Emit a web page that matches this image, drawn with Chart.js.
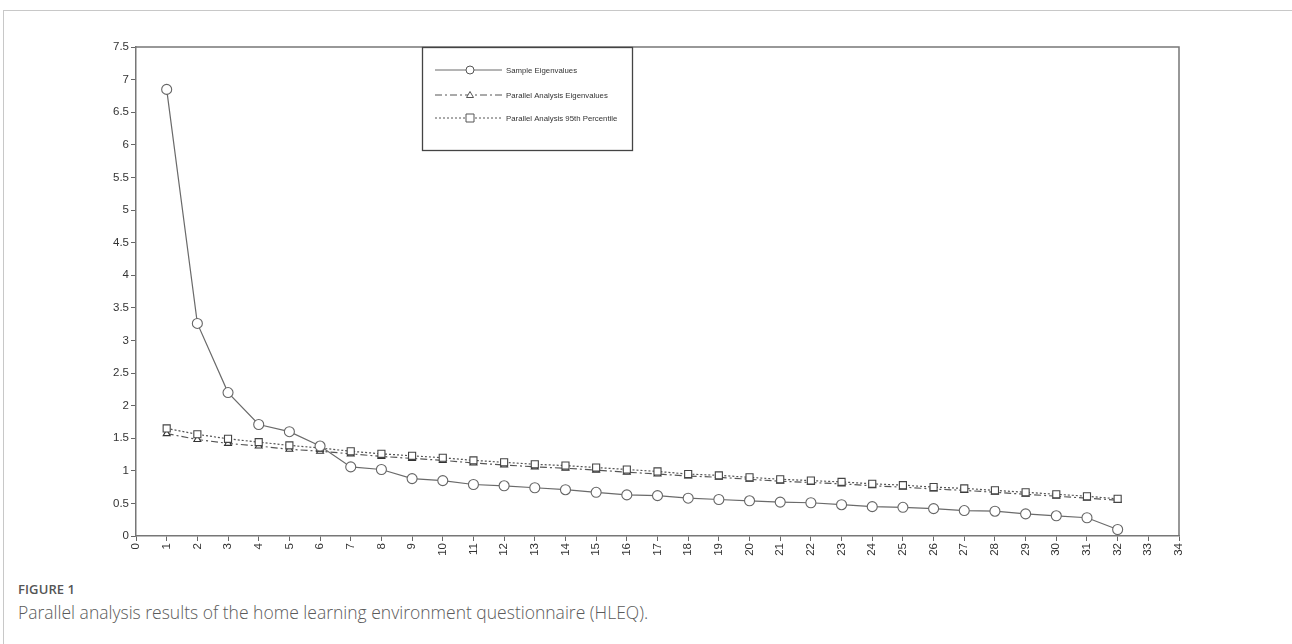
<!DOCTYPE html>
<html>
<head>
<meta charset="utf-8">
<script src="https://cdn.jsdelivr.net/npm/chart.js@4/dist/chart.umd.min.js"></script>
<style>
  html, body { margin: 0; padding: 0; background: #fff; }
  body { width: 1292px; height: 644px; position: relative; overflow: hidden; }
  #frame { position: absolute; left: 3px; top: 10px; width: 1400px; height: 700px; border-left: 1px solid #c8c8c8; border-top: 1px solid #c8c8c8; }
  #wrap { position: absolute; left: 0; top: 0; width: 1292px; height: 570px; }
  #fig { position: absolute; left: 18px; top: 580px; font-family: "Open Sans", sans-serif; font-size: 13px; font-weight: 600; color: #555; letter-spacing: 0.1px; }
  #cap { position: absolute; left: 18px; top: 600px; font-family: "Open Sans", sans-serif; font-size: 17.5px; font-weight: 300; color: #5a5a5a; white-space: nowrap; }
</style>
</head>
<body>
<div id="frame"></div>
<div id="wrap"><canvas id="c"></canvas></div>
<div id="fig">FIGURE 1</div>
<div id="cap">Parallel analysis results of the home learning environment questionnaire (HLEQ).</div>
<script>
const components = [1,2,3,4,5,6,7,8,9,10,11,12,13,14,15,16,17,18,19,20,21,22,23,24,25,26,27,28,29,30,31,32];
const sampleEigenvalues = [6.85,3.26,2.20,1.71,1.60,1.38,1.06,1.02,0.88,0.85,0.79,0.77,0.74,0.71,0.67,0.63,0.62,0.58,0.56,0.54,0.52,0.51,0.48,0.45,0.44,0.42,0.39,0.38,0.34,0.31,0.28,0.10];
const parallelEigenvalues = [1.57,1.48,1.42,1.38,1.33,1.30,1.26,1.22,1.19,1.16,1.12,1.09,1.06,1.04,1.01,0.98,0.95,0.92,0.90,0.87,0.84,0.82,0.80,0.77,0.75,0.72,0.70,0.67,0.64,0.61,0.58,0.55];
const parallel95th = [1.65,1.56,1.49,1.44,1.39,1.35,1.30,1.26,1.23,1.20,1.16,1.13,1.10,1.08,1.05,1.02,0.99,0.95,0.93,0.90,0.87,0.85,0.83,0.80,0.78,0.75,0.73,0.70,0.67,0.64,0.61,0.57];
const seriesNames = ["Sample Eigenvalues", "Parallel Analysis Eigenvalues", "Parallel Analysis 95th Percentile"];
const xRange = [0, 34];
const yRange = [0, 7.5];

const pts = arr => arr.map((v, i) => ({ x: components[i], y: v }));

const PLOT_LEFT = 136, PLOT_RIGHT = 1179, PLOT_TOP = 47, PLOT_BOTTOM = 536, CANVAS_H = 570;

const styles = [
  { color: '#6a6a6a', dash: [], pointStyle: 'circle' },
  { color: '#555', dash: [7, 3, 2, 3], pointStyle: 'triangle' },
  { color: '#555', dash: [2, 2], pointStyle: 'rect' }
];

const legendBox = {
  id: 'legendBox',
  afterDraw(chart) {
    const ctx = chart.ctx;
    const a = chart.chartArea;
    ctx.save();
    ctx.strokeStyle = '#777';
    ctx.lineWidth = 1.5;
    ctx.beginPath();
    ctx.moveTo(a.left, a.top);
    ctx.lineTo(a.right, a.top);
    ctx.lineTo(a.right, a.bottom);
    ctx.stroke();
    const bx = 422.5, by = 47.5, bw = 210, bh = 103;
    ctx.fillStyle = '#fff';
    ctx.fillRect(bx, by, bw, bh);
    ctx.strokeStyle = '#444';
    ctx.lineWidth = 1.3;
    ctx.strokeRect(bx, by, bw, bh);
    const rows = [70, 95, 118];
    chart.data.datasets.forEach((ds, i) => {
      const y = rows[i];
      const st = styles[i];
      ctx.strokeStyle = st.color;
      ctx.lineWidth = 1;
      ctx.setLineDash(st.dash);
      ctx.beginPath();
      ctx.moveTo(435, y);
      ctx.lineTo(502, y);
      ctx.stroke();
      ctx.setLineDash([]);
      ctx.fillStyle = '#fff';
      ctx.strokeStyle = '#555';
      ctx.lineWidth = 1;
      ctx.beginPath();
      if (st.pointStyle === 'circle') { ctx.arc(470, y, 4, 0, Math.PI * 2); }
      else if (st.pointStyle === 'rect') { ctx.rect(466, y - 4, 8, 8); }
      else { ctx.moveTo(470, y - 3.5); ctx.lineTo(473.5, y + 2.5); ctx.lineTo(466.5, y + 2.5); ctx.closePath(); }
      ctx.fill(); ctx.stroke();
      ctx.fillStyle = '#333';
      ctx.font = '7.8px "Liberation Sans", Arial, sans-serif';
      ctx.textBaseline = 'middle';
      ctx.textAlign = 'left';
      ctx.fillText(ds.label, 506, y + 0.5);
    });
    ctx.restore();
  }
};

new Chart(document.getElementById('c'), {
  type: 'line',
  data: {
    datasets: [
      { label: seriesNames[0], data: pts(sampleEigenvalues), borderColor: styles[0].color, borderWidth: 1.2, borderDash: styles[0].dash,
        pointStyle: 'circle', pointRadius: 5, pointBackgroundColor: '#fff', pointBorderColor: '#666', pointBorderWidth: 1.1, order: 1 },
      { label: seriesNames[1], data: pts(parallelEigenvalues), borderColor: styles[1].color, borderWidth: 1.2, borderDash: styles[1].dash,
        pointStyle: 'triangle', pointRadius: 4, pointBackgroundColor: '#fff', pointBorderColor: '#333', pointBorderWidth: 1.1, order: 3 },
      { label: seriesNames[2], data: pts(parallel95th), borderColor: styles[2].color, borderWidth: 1.2, borderDash: styles[2].dash,
        pointStyle: 'rect', pointRadius: 5, pointBackgroundColor: '#fff', pointBorderColor: '#444', pointBorderWidth: 1.1, order: 2 }
    ]
  },
  options: {
    responsive: true,
    maintainAspectRatio: false,
    animation: false,
    layout: { padding: { left: 0, right: 1292 - PLOT_RIGHT, top: PLOT_TOP, bottom: 0 } },
    plugins: { legend: { display: false }, tooltip: { enabled: false } },
    scales: {
      x: {
        type: 'linear', min: xRange[0], max: xRange[1],
        ticks: { stepSize: 1, autoSkip: false, maxRotation: 90, minRotation: 90, padding: 2,
                 color: '#333', font: { family: '"Liberation Sans", Arial, sans-serif', size: 11.5 } },
        grid: { drawOnChartArea: false, drawTicks: true, tickLength: 5, color: '#666', tickWidth: 1 },
        border: { color: '#777', width: 1.5 },
        afterFit(s) { s.height = CANVAS_H - PLOT_BOTTOM; }
      },
      y: {
        min: yRange[0], max: yRange[1],
        ticks: { stepSize: 0.5, padding: 2, color: '#333', font: { family: '"Liberation Sans", Arial, sans-serif', size: 11.5 },
                 callback: v => String(v) },
        grid: { drawOnChartArea: false, drawTicks: true, tickLength: 5, color: '#666', tickWidth: 1 },
        border: { color: '#777', width: 1.5 },
        afterFit(s) { s.width = PLOT_LEFT; }
      }
    }
  },
  plugins: [legendBox]
});
</script>
</body>
</html>
